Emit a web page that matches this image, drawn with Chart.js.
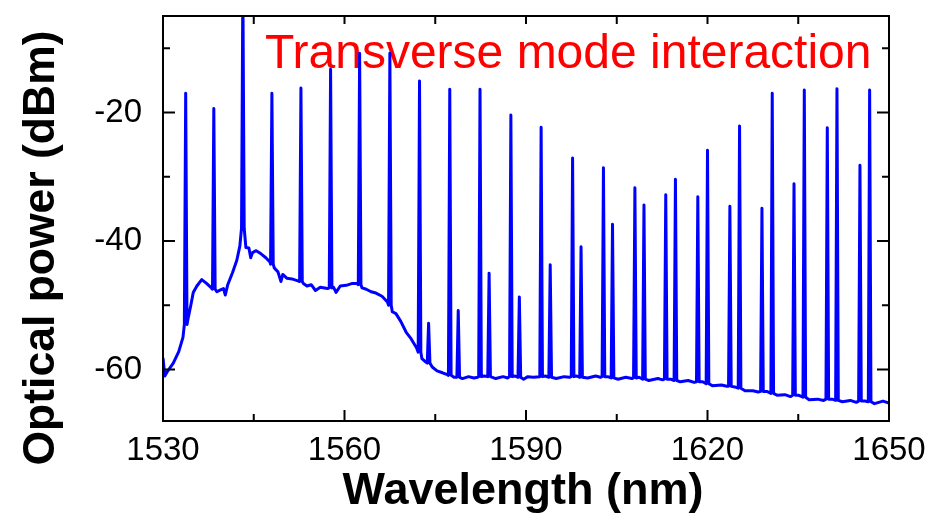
<!DOCTYPE html>
<html>
<head>
<meta charset="utf-8">
<script src="https://cdn.jsdelivr.net/npm/chart.js@4.4.1/dist/chart.umd.min.js"></script>
<style>
  html, body { margin: 0; padding: 0; background: #fff; }
  #wrap { width: 950px; height: 513px; }
</style>
</head>
<body>
<div id="wrap"><canvas id="myChart"></canvas></div>
<script>
// spectrum floor between the lasing lines (nm / dBm)
const baseWl = [1530.0, 1530.3, 1530.8, 1531.7, 1532.6, 1533.3, 1534.2, 1534.6, 1535.0, 1535.6,
  1536.4, 1537.2, 1538.0, 1538.9, 1539.5, 1540.0, 1540.3, 1540.7, 1541.5, 1542.2,
  1542.7, 1543.7, 1544.2, 1544.5, 1544.8, 1545.4, 1546.2, 1547.0, 1547.7, 1548.4,
  1549.0, 1549.5, 1549.8, 1550.5, 1551.3, 1552.3, 1553.2, 1553.8, 1554.5, 1555.2,
  1556.0, 1557.2, 1558.2, 1558.6, 1559.3, 1560.3, 1561.3, 1562.1, 1562.9, 1563.6,
  1564.4, 1565.2, 1566.2, 1567.1, 1567.9, 1568.5, 1569.3, 1570.2, 1571.0, 1571.9,
  1572.8, 1573.4, 1574.5, 1575.3, 1576.2, 1577.0, 1578.1, 1579.5, 1580.5, 1581.4,
  1582.0, 1583.1, 1585.0, 1586.2, 1587.0, 1588.2, 1589.6, 1590.3, 1591.2, 1593.2,
  1595.0, 1596.3, 1597.2, 1598.4, 1600.2, 1601.5, 1602.3, 1603.5, 1605.2, 1606.5,
  1607.5, 1608.7, 1610.3, 1611.8, 1612.6, 1613.9, 1615.5, 1616.8, 1617.8, 1619.2,
  1620.8, 1622.3, 1623.2, 1624.5, 1626.2, 1627.5, 1628.4, 1629.8, 1631.5, 1632.8,
  1633.7, 1635.1, 1636.8, 1638.2, 1639.2, 1640.6, 1642.3, 1643.6, 1644.6, 1646.0,
  1647.6, 1649.0, 1650.0];
const baseDb = [-58.2, -61.0, -60.2, -59.0, -57.2, -55.0, -51.8, -50.0, -48.0, -47.0,
  -46.0, -46.6, -47.3, -47.9, -47.6, -47.4, -48.4, -46.8, -44.9, -43.0,
  -40.8, -41.0, -41.1, -42.6, -41.8, -41.5, -42.0, -42.6, -43.3, -44.2,
  -44.8, -46.3, -45.2, -45.8, -45.9, -46.2, -46.6, -47.0, -46.8, -47.7,
  -47.2, -47.4, -47.2, -48.0, -47.0, -46.9, -46.6, -46.6, -47.3, -47.5,
  -47.9, -48.1, -48.6, -49.5, -51.0, -51.3, -52.5, -54.2, -55.2, -56.6,
  -58.3, -58.8, -59.6, -60.2, -60.5, -60.8, -61.2, -61.4, -61.1, -61.3,
  -61.2, -61.0, -61.4, -61.1, -61.3, -61.0, -61.5, -61.1, -61.2, -61.0,
  -61.4, -61.1, -61.2, -61.0, -61.3, -61.0, -61.2, -61.1, -61.5, -61.2,
  -61.4, -61.2, -61.7, -61.4, -61.6, -61.5, -61.9, -61.7, -62.0, -61.9,
  -62.5, -62.4, -62.6, -62.7, -63.3, -63.3, -63.5, -63.4, -64.0, -63.9,
  -64.2, -64.0, -64.7, -64.6, -64.8, -64.6, -65.0, -64.8, -65.1, -64.9,
  -65.3, -64.9, -65.2];

// lasing lines: centre wavelength, peak power, level at the foot
const peakWl = [1533.75, 1538.4, 1543.2, 1548.0, 1552.8, 1557.7, 1562.5, 1567.5, 1572.4, 1573.9,
  1577.4, 1578.8, 1582.4, 1583.9, 1587.5, 1588.9, 1592.5, 1594.0, 1597.7, 1599.1,
  1602.8, 1604.3, 1608.0, 1609.5, 1613.1, 1614.7, 1618.4, 1620.0, 1623.7, 1625.3,
  1629.0, 1630.7, 1634.3, 1636.0, 1639.8, 1641.4, 1645.2, 1646.8];
const peakDb = [-17.0, -19.4, 0.0, -17.0, -16.2, -13.3, -10.8, -10.8, -15.1, -52.8,
  -16.4, -50.8, -16.4, -45.0, -20.4, -48.7, -22.3, -43.7, -27.1, -40.9,
  -28.6, -37.4, -31.7, -34.4, -32.8, -30.4, -33.1, -25.9, -34.6, -22.1,
  -34.9, -17.0, -31.1, -16.5, -22.4, -16.3, -28.2, -16.5];
const peakFoot = [-53.0, -47.5, -38.0, -43.6, -46.3, -47.3, -46.8, -50.0, -57.3, -59.0,
  -60.9, -61.2, -61.1, -61.1, -61.1, -61.2, -61.1, -61.2, -61.1, -61.2,
  -61.1, -61.3, -61.3, -61.5, -61.5, -61.7, -61.9, -62.2, -62.6, -62.9,
  -63.4, -63.7, -64.0, -64.3, -64.6, -64.8, -64.9, -65.0];
const PEAK_HALF_WIDTH = 0.22;

const xTickLabels = [1530, 1560, 1590, 1620, 1650];
const xMinorTicks = [1545, 1575, 1605, 1635];
const yTickLabels = [-60, -40, -20];
const yMinorTicks = [-50, -30, -10];

const xTitle = "Wavelength (nm)";
const yTitle = "Optical power (dBm)";
const note = "Transverse mode interaction";

const FONT = '"Liberation Sans", Arial, sans-serif';

function buildSpectrum() {
  const pts = baseWl.map((x, i) => ({ x: x, y: baseDb[i] }));
  peakWl.forEach((x, i) => {
    pts.push({ x: x - PEAK_HALF_WIDTH, y: peakFoot[i] });
    pts.push({ x: x, y: peakDb[i] });
    pts.push({ x: x + PEAK_HALF_WIDTH, y: peakFoot[i] });
  });
  pts.sort((a, b) => a.x - b.x);
  return pts;
}

// box with inward ticks + axis titles + red note
const frame = {
  id: 'frame',
  beforeDatasetsDraw(chart) {
    const ctx = chart.ctx;
    ctx.save();
    ctx.fillStyle = '#ff0000';
    ctx.font = '48px ' + FONT;
    ctx.textAlign = 'left';
    ctx.textBaseline = 'alphabetic';
    ctx.fillText(note, 265, 68);
    ctx.restore();
  },
  afterDraw(chart) {
    const { ctx, chartArea: a } = chart;
    const x = chart.scales.x, y = chart.scales.y;
    ctx.save();
    ctx.strokeStyle = '#000';
    ctx.lineWidth = 2;
    ctx.strokeRect(a.left, a.top, a.right - a.left, a.bottom - a.top);
    ctx.beginPath();
    xTickLabels.concat(xMinorTicks).forEach(v => {
      const px = x.getPixelForValue(v);
      const len = xTickLabels.includes(v) ? 11 : 7;
      ctx.moveTo(px, a.bottom); ctx.lineTo(px, a.bottom - len);
      ctx.moveTo(px, a.top); ctx.lineTo(px, a.top + 8);
    });
    yTickLabels.concat(yMinorTicks).forEach(v => {
      const py = y.getPixelForValue(v);
      const len = yTickLabels.includes(v) ? 12 : 7;
      ctx.moveTo(a.left, py); ctx.lineTo(a.left + len, py);
      ctx.moveTo(a.right, py); ctx.lineTo(a.right - len, py);
    });
    ctx.stroke();

    ctx.fillStyle = '#000';
    ctx.font = 'bold 45px ' + FONT;
    ctx.textAlign = 'center';
    ctx.textBaseline = 'alphabetic';
    ctx.fillText(xTitle, 523, 504);
    ctx.font = 'bold 44.5px ' + FONT;
    ctx.translate(54, 248);
    ctx.rotate(-Math.PI / 2);
    ctx.fillText(yTitle, 0, 0);
    ctx.restore();
  }
};

const ctx = document.getElementById("myChart").getContext("2d");
const myChart = new Chart(ctx, {
  type: "line",
  data: {
    datasets: [{
      data: buildSpectrum(),
      borderColor: '#0000ff',
      borderWidth: 3,
      borderJoinStyle: 'round',
      pointRadius: 0,
      tension: 0,
      fill: false
    }]
  },
  options: {
    responsive: true,
    maintainAspectRatio: false,
    animation: false,
    layout: { padding: { top: 16, right: 61, bottom: 0, left: 0 } },
    plugins: { legend: { display: false }, tooltip: { enabled: false } },
    scales: {
      x: {
        type: 'linear',
        min: 1530,
        max: 1650,
        afterBuildTicks: s => { s.ticks = xTickLabels.map(v => ({ value: v })); },
        afterFit: s => { s.height = 92; s.paddingLeft = 0; s.paddingRight = 0; },
        grid: { display: false },
        border: { display: false },
        ticks: {
          color: '#000',
          font: { family: FONT, size: 33 },
          padding: 2,
          maxRotation: 0,
          autoSkip: false,
          callback: v => String(v)
        }
      },
      y: {
        type: 'linear',
        min: -68,
        max: -5,
        afterBuildTicks: s => { s.ticks = yTickLabels.map(v => ({ value: v })); },
        afterFit: s => { s.width = 163; s.paddingTop = 0; s.paddingBottom = 0; },
        grid: { display: false },
        border: { display: false },
        ticks: {
          color: '#000',
          font: { family: FONT, size: 33 },
          padding: 13,
          autoSkip: false,
          callback: v => String(v)
        }
      }
    }
  },
  plugins: [frame]
});
</script>
</body>
</html>
